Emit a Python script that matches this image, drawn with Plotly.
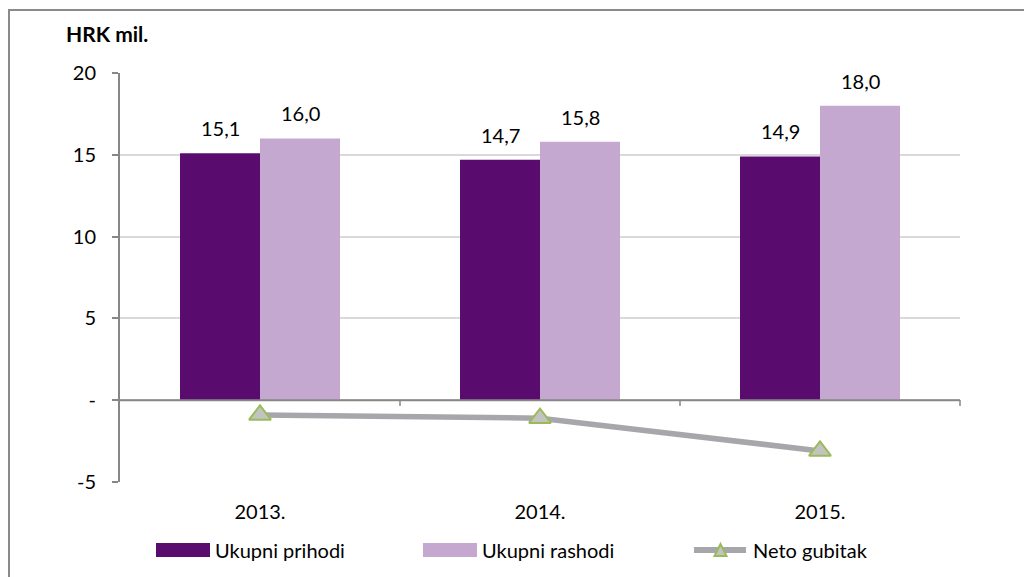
import plotly.graph_objects as go

years = ["2013.", "2014.", "2015."]
prihodi = [15.1, 14.7, 14.9]
rashodi = [16.0, 15.8, 18.0]
gubitak = [-0.9, -1.1, -3.1]
names = ["Ukupni prihodi", "Ukupni rashodi", "Neto gubitak"]

y_ticks = [-5, 0, 5, 10, 15, 20]
y_labels = ["-5", "-", "5", "10", "15", "20"]

c_prih = "#5a0c6e"
c_rash = "#c5a8cf"
c_line = "#a7a7ab"
c_tri = "#9bbb59"
c_axis = "#878787"
font = "Lato, 'Open Sans', sans-serif"

# page body has an 8px margin, so window pixels are mapped to paper coords here
L, T, PW, PH = 120, 73, 840, 409


def px(wx):
    return (wx - L) / PW


def py(wy):
    return (T + PH - wy) / PH


def fmt(v):
    return f"{v:.1f}".replace(".", ",")


fig = go.Figure()
fig.add_trace(go.Bar(x=years, y=prihodi, name=names[0],
                     marker=dict(color=c_prih, line=dict(width=0))))
fig.add_trace(go.Bar(x=years, y=rashodi, name=names[1],
                     marker=dict(color=c_rash, line=dict(width=0))))
fig.add_trace(go.Scatter(
    x=years, y=gubitak, name=names[2], mode="lines+markers",
    line=dict(color=c_line, width=5.5),
    marker=dict(symbol="triangle-up", size=19, color="#c3c3c3",
                line=dict(color=c_tri, width=2)),
    cliponaxis=False,
))

# value labels above the bars (category index used for x, "2013." would read as a number)
for vals, shift in [(prihodi, -40), (rashodi, 40)]:
    for i, v in enumerate(vals):
        fig.add_annotation(x=i, y=v, text=fmt(v), xshift=shift, yshift=25,
                           yanchor="middle", showarrow=False,
                           font=dict(size=20, color="#000000", family=font))

# zero line with category separator ticks
fig.add_shape(type="line", xref="paper", yref="y", x0=0, x1=1, y0=0, y1=0,
              line=dict(color=c_axis, width=2))
for xp in [1 / 3, 2 / 3, 1]:
    fig.add_shape(type="line", xref="paper", yref="paper", x0=xp, x1=xp,
                  y0=py(400), y1=py(406), line=dict(color=c_axis, width=1.5))

# outer frame
fig.add_shape(type="rect", xref="paper", yref="paper",
              x0=px(9), x1=px(1060), y0=py(620), y1=py(10),
              line=dict(color="#8a8a8a", width=2), layer="below")

fig.add_annotation(text="<b>HRK mil.</b>", xref="paper", yref="paper",
                   x=px(64), y=py(33), xanchor="left", yanchor="middle",
                   showarrow=False, font=dict(size=21, color="#000000", family=font))

# legend drawn by hand to match the wide swatches
leg_y = 550
for x0, col in [(156, c_prih), (423, c_rash)]:
    fig.add_shape(type="rect", xref="paper", yref="paper",
                  x0=px(x0), x1=px(x0 + 54), y0=py(leg_y + 7), y1=py(leg_y - 7),
                  fillcolor=col, line=dict(width=0))
fig.add_shape(type="line", xref="paper", yref="paper",
              x0=px(694), x1=px(746), y0=py(leg_y), y1=py(leg_y),
              line=dict(color=c_line, width=6))
fig.add_shape(type="path", xref="paper", yref="paper",
              path=f"M {px(714.5)} {py(556)} L {px(726.5)} {py(556)} "
                   f"L {px(720.5)} {py(544)} Z",
              fillcolor="#c3c3c3", line=dict(color=c_tri, width=2))
for x0, name in zip([213, 480, 751], names):
    fig.add_annotation(text=name, xref="paper", yref="paper", x=px(x0), y=py(leg_y),
                       xanchor="left", yanchor="middle", showarrow=False,
                       font=dict(size=20, color="#000000", family=font))

fig.update_layout(
    width=1024, height=569,
    margin=dict(l=L - 8, t=T - 8, r=1024 - (L - 8) - PW, b=569 - (T - 8) - PH,
                autoexpand=False),
    paper_bgcolor="white", plot_bgcolor="white",
    font=dict(family=font, size=20, color="#000000"),
    barmode="group", bargap=0.4286, bargroupgap=0,
    showlegend=False,
)
fig.update_xaxes(type="category", range=[-0.5, 2.5], showgrid=False, showline=False,
                 zeroline=False, ticks="", ticklabelstandoff=16, tickfont=dict(size=20))
fig.update_yaxes(range=[-5, 20], tickvals=y_ticks, ticktext=y_labels,
                 showgrid=True, gridcolor="#d9d9d9", gridwidth=2, zeroline=False,
                 showline=True, linecolor=c_axis, linewidth=2,
                 ticks="outside", ticklen=6, tickcolor=c_axis, tickwidth=2,
                 ticklabelstandoff=12, tickfont=dict(size=20))

fig.write_html("out.html")
